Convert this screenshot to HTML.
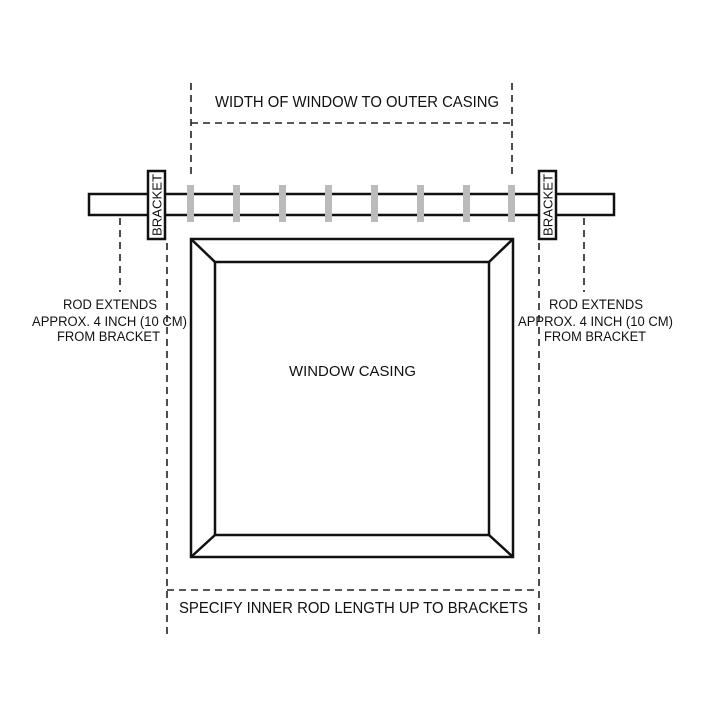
<!DOCTYPE html>
<html><head><meta charset="utf-8"><style>html,body{margin:0;padding:0;background:#fff}svg{display:block}text{font-family:"Liberation Sans",Arial,sans-serif;fill:#111}</style></head>
<body>
<svg width="720" height="720" viewBox="0 0 720 720" xmlns="http://www.w3.org/2000/svg">
<g stroke="#222" stroke-width="1.6" stroke-dasharray="7,5" fill="none">
<line x1="191" y1="83" x2="191" y2="175"/>
<line x1="512" y1="83" x2="512" y2="175"/>
<line x1="191" y1="123" x2="512" y2="123"/>
<line x1="120" y1="218" x2="120" y2="292"/>
<line x1="584" y1="218" x2="584" y2="292"/>
<line x1="167" y1="243" x2="167" y2="634"/>
<line x1="539" y1="243" x2="539" y2="634"/>
<line x1="167" y1="590" x2="539" y2="590"/>
</g>
<rect x="89" y="194" width="525" height="21" fill="#fff" stroke="#111" stroke-width="2.5"/>
<g fill="#bbb">
<rect x="187" y="185" width="7" height="37"/><rect x="233" y="185" width="7" height="37"/>
<rect x="279" y="185" width="7" height="37"/><rect x="325" y="185" width="7" height="37"/>
<rect x="371" y="185" width="7" height="37"/><rect x="417" y="185" width="7" height="37"/>
<rect x="463" y="185" width="7" height="37"/><rect x="508" y="185" width="7" height="37"/>
</g>
<rect x="148" y="171" width="17" height="68" fill="#fff" stroke="#111" stroke-width="2.5"/>
<rect x="539" y="171" width="17" height="68" fill="#fff" stroke="#111" stroke-width="2.5"/>
<text transform="translate(161.5,205) rotate(-90)" text-anchor="middle" font-size="13" textLength="62" lengthAdjust="spacingAndGlyphs">BRACKET</text>
<text transform="translate(552.5,205) rotate(-90)" text-anchor="middle" font-size="13" textLength="62" lengthAdjust="spacingAndGlyphs">BRACKET</text>
<g stroke="#111" stroke-width="2.5" fill="none">
<rect x="191" y="239" width="322" height="318"/>
<rect x="215" y="262" width="274" height="273"/>
<line x1="191" y1="239" x2="215" y2="262"/>
<line x1="513" y1="239" x2="489" y2="262"/>
<line x1="191" y1="557" x2="215" y2="535"/>
<line x1="513" y1="557" x2="489" y2="535"/>
</g>
<text x="215" y="107" font-size="15.5" textLength="284" lengthAdjust="spacingAndGlyphs">WIDTH OF WINDOW TO OUTER CASING</text>
<text x="289" y="376" font-size="15" textLength="127" lengthAdjust="spacingAndGlyphs">WINDOW CASING</text>
<text x="179" y="613" font-size="15.5" textLength="349" lengthAdjust="spacingAndGlyphs">SPECIFY INNER ROD LENGTH UP TO BRACKETS</text>
<g font-size="13.5">
<text x="63" y="309" textLength="94" lengthAdjust="spacingAndGlyphs">ROD EXTENDS</text>
<text x="32" y="326" textLength="155" lengthAdjust="spacingAndGlyphs">APPROX. 4 INCH (10 CM)</text>
<text x="57" y="341" textLength="103" lengthAdjust="spacingAndGlyphs">FROM BRACKET</text>
<text x="549" y="309" textLength="94" lengthAdjust="spacingAndGlyphs">ROD EXTENDS</text>
<text x="518" y="326" textLength="155" lengthAdjust="spacingAndGlyphs">APPROX. 4 INCH (10 CM)</text>
<text x="544" y="341" textLength="102" lengthAdjust="spacingAndGlyphs">FROM BRACKET</text>
</g>
</svg>
</body></html>
